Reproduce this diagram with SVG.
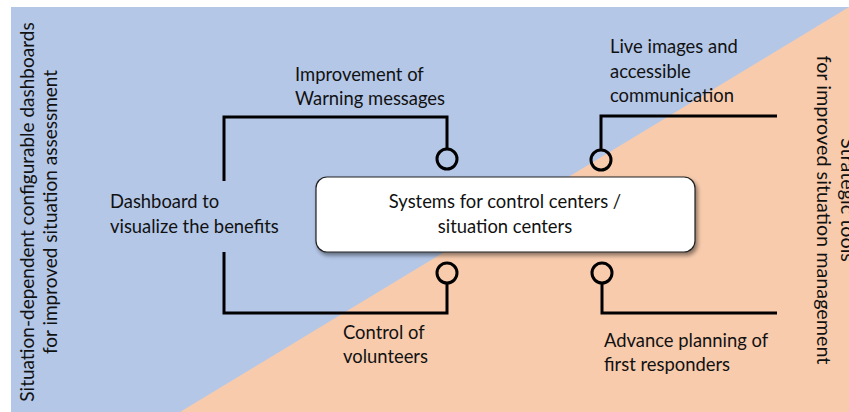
<svg xmlns="http://www.w3.org/2000/svg" width="849" height="412" viewBox="0 0 849 412">
  <defs>
    <filter id="shadow" x="-10%" y="-20%" width="120%" height="150%">
      <feDropShadow dx="2" dy="3" stdDeviation="2" flood-color="#000" flood-opacity="0.45"/>
    </filter>
  </defs>
  <style>
    text { font-family: Lato, "Open Sans", "Liberation Sans", sans-serif; font-size: 18.4px; fill: #111; }
    .mid { text-anchor: middle; }
    .side { font-size: 19px; }
    .side-r { font-size: 19.8px; }
    .wire { fill: none; stroke: #000; stroke-width: 3; }
    .plug { fill: none; stroke: #000; stroke-width: 3; }
  </style>

  <!-- background halves -->
  <rect x="11" y="7" width="838" height="405" fill="#B4C7E7"/>
  <polygon points="180,412 849,7 849,412" fill="#F8CBAD"/>

  <!-- side captions -->
  <g id="left-caption">
    <text class="mid side" transform="translate(34,212) rotate(-90)">Situation-dependent configurable dashboards</text>
    <text class="mid side" transform="translate(57,212) rotate(-90)">for improved situation assessment</text>
  </g>
  <g id="right-caption">
    <text class="mid side-r" transform="translate(841,200) rotate(90)">Strategic tools</text>
    <text class="mid side-r" transform="translate(817,210) rotate(90)">for improved situation management</text>
  </g>

  <!-- connectors -->
  <g id="connectors">
    <path class="wire" d="M224,181 V117 H447 V149"/>
    <circle class="plug" cx="447" cy="159" r="10"/>
    <path class="wire" d="M224,252 V313 H447 V283"/>
    <circle class="plug" cx="447" cy="273" r="10"/>
    <path class="wire" d="M777,116 H601 V150"/>
    <circle class="plug" cx="601" cy="160" r="10"/>
    <path class="wire" d="M777,313 H602 V283"/>
    <circle class="plug" cx="602" cy="273" r="10"/>
  </g>

  <!-- central node -->
  <g id="systems">
    <rect x="316" y="177" width="379" height="75" rx="11" fill="#fff" stroke="#222" stroke-width="1.2" filter="url(#shadow)"/>
    <text class="mid" x="505" y="208">Systems for control centers /</text>
    <text class="mid" x="505" y="233">situation centers</text>
  </g>

  <!-- feature labels -->
  <g id="warning">
    <text x="295" y="81">Improvement of</text>
    <text x="295" y="105">Warning messages</text>
  </g>
  <g id="live-images">
    <text x="610" y="53">Live images and</text>
    <text x="610" y="78">accessible</text>
    <text x="610" y="102">communication</text>
  </g>
  <g id="dashboard">
    <text x="110" y="208">Dashboard to</text>
    <text x="110" y="233">visualize the benefits</text>
  </g>
  <g id="volunteers">
    <text x="343" y="339">Control of</text>
    <text x="343" y="363">volunteers</text>
  </g>
  <g id="responders">
    <text x="604" y="347">Advance planning of</text>
    <text x="604" y="371">first responders</text>
  </g>
</svg>
